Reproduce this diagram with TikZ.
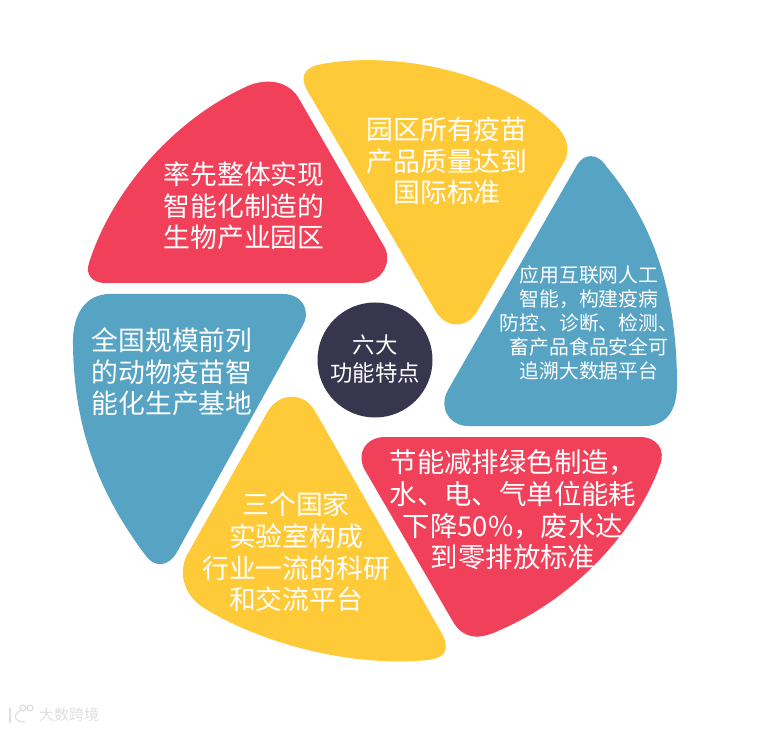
\documentclass[tikz,border=0pt]{standalone}
\usepackage{fontspec}
\newfontfamily\cjk{Noto Sans CJK SC}
\definecolor{petalred}{HTML}{F0405A}
\definecolor{petalyellow}{HTML}{FFCA38}
\definecolor{petalblue}{HTML}{57A3C4}
\definecolor{hubdark}{HTML}{38354F}

\begin{document}
\begin{tikzpicture}[
    x=1pt,
    y=-1pt,
    % === STYLES ===
    petal/.style={
        fill=#1
    },
    petal/.default=petalred,
    petaltext/.style={
        text=white,
        align=center,
        inner sep=0pt,
        font=\cjk\fontsize{26.8}{31.6}\selectfont
    },
    widetext/.style={
        petaltext,
        font=\cjk\fontsize{27.4}{31.6}\selectfont
    },
    smalltext/.style={
        petaltext,
        font=\cjk\fontsize{19.8}{24}\selectfont
    },
    hubtext/.style={
        petaltext,
        font=\cjk\fontsize{22.4}{28}\selectfont
    },
    marktext/.style={
        text=gray!25,
        inner sep=0pt,
        font=\cjk\fontsize{15}{15}\selectfont
    },
    markline/.style={
        draw=gray!25,
        line width=1.2pt
    }
]
\useasboundingbox (0,0) rectangle (764,730);

% === PETALS ===

% Red, upper left
\fill[petal=petalred] (250,85) .. controls (270,78) and (288,82) .. (298,97)
    -- (385,248) .. controls (392,263) and (382,283) .. (360,283)
    -- (105,283) .. controls (92,283) and (85,274) .. (89,263)
    .. controls (112,190) and (175,118) .. (250,85) -- cycle;

% Yellow, top
\fill[petal=petalyellow] (307,90) .. controls (298,74) and (308,66) .. (322,64)
    .. controls (400,50) and (500,75) .. (550,120)
    .. controls (566,133) and (572,148) .. (564,162)
    -- (478,310) .. controls (468,328) and (448,330) .. (436,312) -- cycle;

% Blue, right
\fill[petal=petalblue] (577,165) .. controls (584,153) and (598,153) .. (606,166)
    .. controls (655,225) and (677,295) .. (677,385)
    .. controls (677,412) and (665,426) .. (645,426)
    -- (468,426) .. controls (450,426) and (438,408) .. (448,390) -- cycle;

% Red, lower right
\fill[petal=petalred] (385,437) -- (640,437)
    .. controls (657,437) and (666,450) .. (660,465)
    .. controls (635,535) and (570,600) .. (500,630)
    .. controls (480,640) and (463,640) .. (452,620)
    -- (366,472) .. controls (355,455) and (365,437) .. (385,437) -- cycle;

% Yellow, bottom
\fill[petal=petalyellow] (268,411) .. controls (280,392) and (304,392) .. (315,411)
    -- (441,632) .. controls (451,650) and (445,658) .. (428,660)
    .. controls (345,668) and (255,640) .. (204,608)
    .. controls (186,597) and (177,575) .. (187,555) -- cycle;

% Blue, left
\fill[petal=petalblue] (110,294) -- (283,294)
    .. controls (302,294) and (311,310) .. (303,325)
    -- (177,552) .. controls (168,568) and (154,567) .. (146,556)
    .. controls (100,495) and (74,430) .. (73,345)
    .. controls (72,315) and (85,294) .. (110,294) -- cycle;

% === HUB ===
\fill[hubdark] (375,360) circle (57.5);

% === LABELS ===
\node[petaltext] (redtop) at (244,206) {率先整体实现\\智能化制造的\\生物产业园区};
\node[petaltext] (yellowtop) at (447,161) {园区所有疫苗\\产品质量达到\\国际标准};
\node[smalltext] (blueright) at (589,323) {应用互联网人工\\智能，构建疫病\\防控、诊断、检测、\\畜产品食品安全可\\追溯大数据平台};
\node[widetext] (redlow) at (513,510) {节能减排绿色制造，\\水、电、气单位能耗\\下降50\%，废水达\\到零排放标准};
\node[petaltext] (yellowlow) at (296,552) {三个国家\\实验室构成\\行业一流的科研\\和交流平台};
\node[petaltext] (blueleft) at (172,372) {全国规模前列\\的动物疫苗智\\能化生产基地};
\node[hubtext] (hub) at (375,359) {六大\\功能特点};

% === WATERMARK ===
\node[marktext] (mark) at (69,715) {大数跨境};
\draw[markline] (10,708) -- (10,723);
\draw[markline] (21,710) .. controls (13,714) and (13,722) .. (25,722);
\draw[markline] (23,708) circle (3);
\draw[markline] (30,708) circle (3);

\end{tikzpicture}
\end{document}
